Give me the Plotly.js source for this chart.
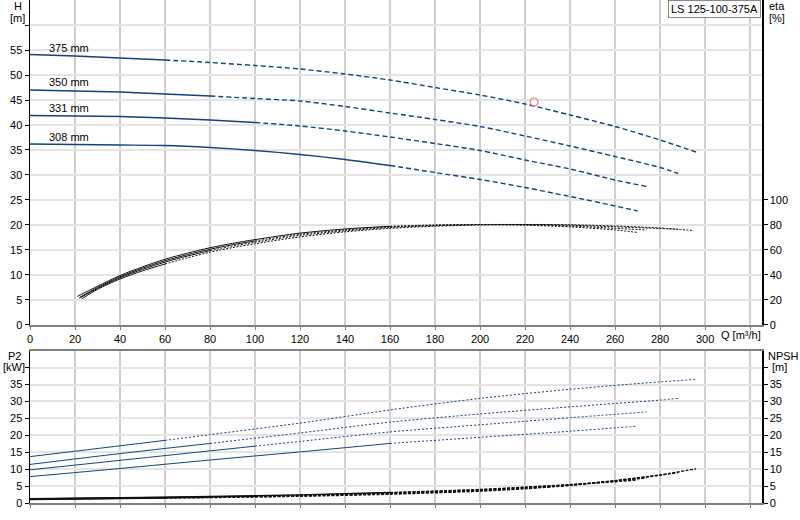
<!DOCTYPE html>
<html>
<head>
<meta charset="utf-8">
<script src="https://cdn.plot.ly/plotly-3.0.1.min.js"></script>
<style>body{margin:0;background:#fff}#chart{width:800px;height:520px}</style>
</head>
<body>
<div id="chart"></div>
<script>
const diameters = ['375 mm', '350 mm', '331 mm', '308 mm']
const labelQ = [7.5, 7.5, 7.5, 7.5]
const labelH = [55.4, 48.6, 43.5, 37.7]
// last Q of the solid part of each curve, the rest is drawn dashed
const solidEnd = [60, 80, 100, 160]

const headQ = [
    [0, 20, 40, 60, 80, 100, 120, 140, 160, 180, 200, 220, 240, 260, 280, 296],
    [0, 20, 40, 60, 80, 100, 120, 140, 160, 180, 200, 220, 240, 260, 280, 288],
    [0, 20, 40, 60, 80, 100, 120, 140, 160, 180, 200, 220, 240, 260, 274],
    [0, 20, 40, 60, 80, 100, 120, 140, 160, 180, 200, 220, 240, 260, 270]
]
const headH = [
    [54.1, 53.8, 53.4, 53.0, 52.5, 51.9, 51.2, 50.2, 49.0, 47.5, 46.0, 44.2, 42.0, 39.7, 37.0, 34.6],
    [47.0, 46.8, 46.6, 46.2, 45.8, 45.3, 44.8, 43.7, 42.4, 41.1, 39.7, 37.8, 35.8, 33.7, 31.5, 30.3],
    [41.9, 41.8, 41.7, 41.4, 41.0, 40.5, 39.8, 38.8, 37.6, 36.3, 34.9, 33.0, 31.2, 29.0, 27.7],
    [36.2, 36.1, 36.0, 35.9, 35.5, 34.9, 34.1, 33.1, 31.9, 30.5, 29.1, 27.5, 25.7, 23.8, 22.8]
]

const etaQ = [
    [23, 30, 40, 50, 60, 70, 80, 90, 100, 120, 140, 160, 180, 200, 220, 240, 260, 280, 295],
    [22, 30, 40, 50, 60, 70, 80, 90, 100, 120, 140, 160, 180, 200, 220, 240, 260, 280, 288],
    [22, 30, 40, 50, 60, 70, 80, 90, 100, 120, 140, 160, 180, 200, 220, 240, 260, 274],
    [21, 30, 40, 50, 60, 70, 80, 90, 100, 120, 140, 160, 180, 200, 220, 240, 260, 270]
]
const eta = [
    [21.0, 28.5, 36.8, 43.3, 48.8, 53.8, 58.2, 61.9, 65.0, 70.5, 74.5, 77.3, 79.0, 80.0, 80.4, 80.2, 79.2, 77.6, 75.5],
    [21.5, 29.3, 37.8, 44.5, 50.3, 55.2, 59.5, 63.1, 66.2, 71.7, 75.3, 78.0, 79.5, 80.3, 80.4, 79.8, 78.5, 77.2, 76.6],
    [22.0, 30.0, 38.6, 45.5, 51.4, 56.3, 60.6, 64.2, 67.2, 72.6, 76.0, 78.5, 79.8, 80.4, 80.2, 79.2, 77.3, 76.0],
    [22.8, 31.0, 39.6, 46.5, 52.6, 57.5, 61.8, 65.3, 68.3, 73.5, 76.8, 79.0, 80.0, 80.3, 79.8, 78.5, 76.0, 74.0]
]

const p2Q = [
    [0, 40, 60, 80, 120, 160, 200, 240, 280, 296],
    [0, 40, 80, 120, 160, 200, 240, 280, 288],
    [0, 40, 80, 100, 120, 160, 200, 240, 274],
    [0, 40, 80, 120, 160, 200, 240, 260, 270]
]
const p2 = [
    [13.7, 16.9, 18.5, 20.2, 23.6, 27.5, 30.9, 33.6, 35.8, 36.5],
    [11.4, 14.6, 17.6, 20.7, 23.9, 26.3, 28.4, 30.4, 30.9],
    [9.8, 12.6, 15.4, 16.8, 18.2, 21.0, 23.1, 25.2, 26.9],
    [7.8, 10.2, 12.7, 15.1, 17.6, 19.4, 21.2, 22.2, 22.7]
]

const npshQ = [
    [0, 40, 60, 80, 120, 160, 200, 220, 240, 260, 280, 296],
    [0, 40, 80, 120, 160, 200, 220, 240, 260, 280, 288],
    [0, 40, 80, 100, 120, 160, 200, 220, 240, 260, 274],
    [0, 40, 80, 120, 160, 200, 220, 240, 260, 270]
]
const npsh = [
    [1.0, 1.3, 1.45, 1.6, 2.0, 2.6, 3.5, 4.2, 5.2, 6.6, 8.3, 10.1],
    [1.1, 1.4, 1.7, 2.1, 2.8, 3.7, 4.4, 5.3, 6.6, 8.2, 9.0],
    [1.2, 1.5, 1.8, 2.0, 2.3, 3.0, 3.9, 4.6, 5.4, 6.5, 7.4],
    [1.3, 1.6, 1.9, 2.4, 3.1, 4.0, 4.7, 5.4, 6.3, 6.8]
]

const dutyQ = [224]
const dutyH = [44.6]

const qTicks = [0, 20, 40, 60, 80, 100, 120, 140, 160, 180, 200, 220, 240, 260, 280, 300, 320]
const qTickText = ['0', '20', '40', '60', '80', '100', '120', '140', '160', '180', '200', '220', '240', '260', '280', '300', '']
const hTicks = [0, 5, 10, 15, 20, 25, 30, 35, 40, 45, 50, 55, 60]
const hTickText = ['0', '5', '10', '15', '20', '25', '30', '35', '40', '45', '50', '55', '']
const etaTicks = [0, 20, 40, 60, 80, 100]
const p2Ticks = [0, 5, 10, 15, 20, 25, 30, 35, 40]
const p2TickText = ['0', '5', '10', '15', '20', '25', '30', '35', '']

const blue = '#12437c'
const black = '#111111'

// split a curve into its solid part and its dashed part at the point q == end
function split(q, v, end) {
    const i = q.indexOf(end)
    return [[q.slice(0, i + 1), v.slice(0, i + 1)], [q.slice(i), v.slice(i)]]
}

const traces = []
function addCurve(q, v, end, xa, ya, color, width, dash) {
    const [a, b] = split(q, v, end)
    traces.push({ x: a[0], y: a[1], xaxis: xa, yaxis: ya, type: 'scatter', mode: 'lines',
        line: { color: color, width: width, shape: 'spline', smoothing: 0.8 }, hoverinfo: 'skip' })
    traces.push({ x: b[0], y: b[1], xaxis: xa, yaxis: ya, type: 'scatter', mode: 'lines',
        line: { color: color, width: width, dash: dash, shape: 'spline', smoothing: 0.8 }, hoverinfo: 'skip' })
}

for (let i = 0; i < diameters.length; i++) {
    addCurve(headQ[i], headH[i], solidEnd[i], 'x', 'y', blue, 1.4, '5px,3px')
    addCurve(etaQ[i], eta[i], solidEnd[i], 'x', 'y2', black, 1, '2px,1.5px')
    addCurve(p2Q[i], p2[i], solidEnd[i], 'x2', 'y3', blue, 1, '2px,2px')
    addCurve(npshQ[i], npsh[i], solidEnd[i], 'x2', 'y4', black, 1.4, '3px,1.5px')
}
traces.push({ x: dutyQ, y: dutyH, xaxis: 'x', yaxis: 'y', type: 'scatter', mode: 'markers',
    marker: { symbol: 'circle-open', size: 8, color: '#f07a7a', line: { width: 1.2 } }, hoverinfo: 'skip' })

// pixel position -> paper position (plot area: x 30..762, y 0..503)
const px = x => (x - 30) / 732
const py = y => (503 - y) / 503

const font = { family: 'Liberation Sans, Arial, sans-serif', size: 11, color: '#000' }

const annotations = diameters.map((d, i) => ({
    x: labelQ[i], y: labelH[i], xref: 'x', yref: 'y', text: d, showarrow: false,
    xanchor: 'left', yanchor: 'middle', font: font
}))
function label(text, x, y, anchor) {
    annotations.push({ x: px(x), y: py(y), xref: 'paper', yref: 'paper', text: text, showarrow: false,
        xanchor: anchor, yanchor: 'middle', font: font })
}
label('H', 17.5, 6, 'center')
label('[m]', 17.5, 18, 'center')
label('eta', 767, 6, 'left')
label('[%]', 767, 18, 'left')
label('P2', 14, 356, 'center')
label('[kW]', 14, 367, 'center')
label('NPSH', 766, 356, 'left')
label('[m]', 780, 367, 'center')
label('Q [m³/h]', 719, 335, 'left')
annotations.push({ x: px(761), y: py(0), xref: 'paper', yref: 'paper', text: 'LS 125-100-375A',
    showarrow: false, xanchor: 'right', yanchor: 'top', font: font,
    bgcolor: '#fff', bordercolor: '#888', borderwidth: 1, borderpad: 2 })

const xCommon = {
    range: [0, 325.3], tickvals: qTicks, ticktext: qTickText, showgrid: true,
    gridcolor: '#cfcfcf', gridwidth: 1.5, showline: true, linecolor: '#808080', linewidth: 2,
    mirror: true, ticks: 'outside', ticklen: 3, tickcolor: '#808080', zeroline: false, tickfont: font
}
const yLeft = {
    showgrid: true, gridcolor: '#e4e4e4', gridwidth: 2, showline: true, linecolor: '#000',
    linewidth: 1.5, ticks: 'outside', ticklen: 4, tickcolor: '#000', zeroline: false, tickfont: font
}
const yRight = {
    side: 'right', showgrid: false, showline: true, linecolor: '#000', linewidth: 1.5,
    ticks: 'outside', ticklen: 4, tickcolor: '#000', zeroline: false, tickfont: font
}

const layout = {
    width: 800, height: 520,
    margin: { l: 30, r: 38, t: 0, b: 17 },
    paper_bgcolor: '#fff', plot_bgcolor: '#fff',
    showlegend: false, font: font,
    xaxis: Object.assign({}, xCommon, { domain: [0, 1], anchor: 'y' }),
    yaxis: Object.assign({}, yLeft, { domain: [0.3539, 1], range: [0, 65], tickvals: hTicks, ticktext: hTickText, anchor: 'x' }),
    yaxis2: Object.assign({}, yRight, { overlaying: 'y', range: [0, 260], tickvals: etaTicks, anchor: 'x' }),
    xaxis2: Object.assign({}, xCommon, { domain: [0, 1], anchor: 'y3', matches: 'x', showticklabels: false }),
    yaxis3: Object.assign({}, yLeft, { domain: [0, 0.3028], range: [0, 45], tickvals: p2Ticks, ticktext: p2TickText, anchor: 'x2' }),
    yaxis4: Object.assign({}, yRight, { overlaying: 'y3', range: [0, 45], tickvals: p2Ticks, ticktext: p2TickText, anchor: 'x2' }),
    annotations: annotations
}

Plotly.newPlot('chart', traces, layout, { staticPlot: true })
</script>
</body>
</html>
